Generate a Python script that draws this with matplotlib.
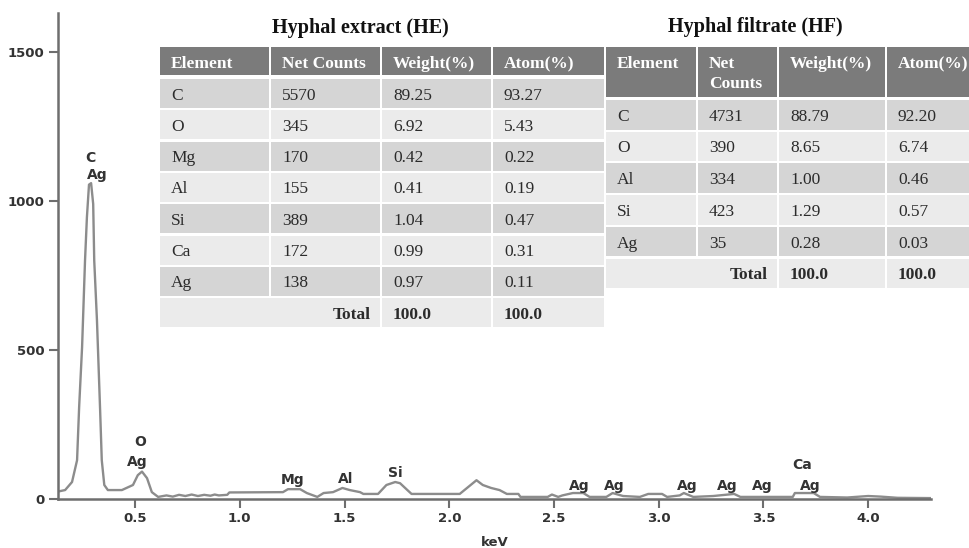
import matplotlib.pyplot as plt
from matplotlib.patches import Rectangle

# EDX spectrum (energy in keV, counts)
energy = [0.132, 0.166, 0.199, 0.223, 0.233, 0.247, 0.261, 0.270, 0.280, 0.290,
          0.300, 0.305, 0.318, 0.333, 0.341, 0.353, 0.370,
          0.437, 0.490, 0.513, 0.533, 0.557, 0.580, 0.610,
          0.650, 0.680, 0.710, 0.740, 0.770, 0.800, 0.830, 0.860, 0.880, 0.900,
          0.940, 0.950,
          1.206, 1.230, 1.288, 1.320, 1.370, 1.400, 1.445, 1.490, 1.525, 1.574,
          1.590, 1.660, 1.700, 1.742, 1.765, 1.800, 1.820,
          2.050, 2.090, 2.130, 2.160, 2.200, 2.240, 2.275, 2.330, 2.340, 2.470,
          2.490, 2.520, 2.540, 2.590, 2.640, 2.670, 2.750, 2.780, 2.830, 2.910,
          2.950,
          3.016, 3.040, 3.100, 3.120, 3.165, 3.260, 3.360, 3.390, 3.640, 3.650,
          3.740, 3.770, 3.900, 4.000, 4.060, 4.140, 4.300]
counts = [25, 30, 57, 130, 310, 510, 800, 945, 1055, 1060,
          990, 800, 600, 300, 130, 47, 30,
          30, 47, 80, 92, 70, 23, 7,
          12, 8, 14, 10, 15, 10, 14, 11, 15, 12,
          14, 22,
          23, 33, 33, 20, 7, 20, 23, 37, 30, 23,
          17, 17, 47, 57, 53, 30, 17,
          17, 40, 63, 47, 37, 30, 17, 17, 7, 7,
          15, 7, 12, 20, 20, 7, 7, 20, 10, 7,
          17,
          17, 7, 12, 20, 7, 10, 17, 7, 7, 20,
          20, 7, 5, 10, 8, 4, 3]

# peak identification labels
peak_names = ['C', 'Ag', 'O', 'Ag', 'Mg', 'Al', 'Si',
              'Ag', 'Ag', 'Ag', 'Ag', 'Ag', 'Ca', 'Ag']
peak_kev = [0.285, 0.318, 0.524, 0.510, 1.254, 1.503, 1.742,
            2.620, 2.787, 3.136, 3.327, 3.494, 3.685, 3.723]
peak_y = [1144, 1087, 191, 124, 64, 67, 87,
          44, 44, 44, 44, 44, 114, 44]

# composition tables
cols_he = ['Element', 'Net Counts', 'Weight(%)', 'Atom(%)']
rows_he = [['C', '5570', '89.25', '93.27'],
           ['O', '345', '6.92', '5.43'],
           ['Mg', '170', '0.42', '0.22'],
           ['Al', '155', '0.41', '0.19'],
           ['Si', '389', '1.04', '0.47'],
           ['Ca', '172', '0.99', '0.31'],
           ['Ag', '138', '0.97', '0.11']]
cols_hf = ['Element', 'Net\nCounts', 'Weight(%)', 'Atom(%)']
rows_hf = [['C', '4731', '88.79', '92.20'],
           ['O', '390', '8.65', '6.74'],
           ['Al', '334', '1.00', '0.46'],
           ['Si', '423', '1.29', '0.57'],
           ['Ag', '35', '0.28', '0.03']]
totals = ['100.0', '100.0']

W, H = 969, 548
fig = plt.figure(figsize=(W / 100, H / 100), dpi=100)
ax = fig.add_axes([58 / W, 49 / H, (931 - 58) / W, (499 - 13) / H])

ax.plot(energy, counts, color='#8c8c8c', lw=1.7)
ax.set_xlim(0.132, 4.30)
ax.set_ylim(0, 1631)
for s in ['top', 'right']:
    ax.spines[s].set_visible(False)
for s in ['left', 'bottom']:
    ax.spines[s].set_color('#6e6e6e')
    ax.spines[s].set_linewidth(1.8)
ax.set_xticks([0.5, 1.0, 1.5, 2.0, 2.5, 3.0, 3.5, 4.0])
ax.set_xticklabels(['0.5', '1.0', '1.5', '2.0', '2.5', '3.0', '3.5', '4.0'])
ax.set_yticks([0, 500, 1000, 1500])
ax.tick_params(direction='out', length=6.5, width=1.5, color='#6e6e6e',
               labelsize=9.5, labelcolor='#333333', pad=3)
for lbl in ax.get_xticklabels() + ax.get_yticklabels():
    lbl.set_fontweight('bold')
ax.set_xlabel('keV', fontsize=9.5, fontweight='bold', color='#333333', labelpad=8)

for name, x, y in zip(peak_names, peak_kev, peak_y):
    ax.text(x, y, name, ha='center', va='center', fontsize=10,
            fontweight='bold', color='#333333')

# overlay in pixel coordinates for the tables
ov = fig.add_axes([0, 0, 1, 1], zorder=5)
ov.set_xlim(0, W)
ov.set_ylim(H, 0)
ov.axis('off')

HEAD = '#7b7b7b'
DARK = '#d5d5d5'
LIGHT = '#ebebeb'
TXT = '#2b2b2b'
serif = 'Liberation Serif'
fs = 12.5


def cell(x0, x1, y0, y1, color):
    ov.add_patch(Rectangle((x0, y0), x1 - x0, y1 - y0, facecolor=color,
                           edgecolor='none'))


def draw_table(edges, head_top, head_bot, row_top, pitch, row_h, header, rows):
    gap = 2
    for j, h in enumerate(header):
        cell(edges[j], edges[j + 1] - gap, head_top, head_bot, HEAD)
        for k, line in enumerate(h.split('\n')):
            ov.text(edges[j] + 11, head_top + 21 + 20 * k, line, family=serif,
                    fontsize=fs, fontweight='bold', color='white', va='baseline')
    for i, r in enumerate(rows):
        y0 = row_top + i * pitch
        color = DARK if i % 2 == 0 else LIGHT
        for j, v in enumerate(r):
            cell(edges[j], edges[j + 1] - gap, y0, y0 + row_h, color)
            ov.text(edges[j] + 11, y0 + row_h / 2 + 6, v, family=serif,
                    fontsize=fs, color=TXT, va='baseline')
    y0 = row_top + len(rows) * pitch
    color = DARK if len(rows) % 2 == 0 else LIGHT
    cell(edges[0], edges[2] - gap, y0, y0 + row_h, color)
    ov.text(edges[2] - 11, y0 + row_h / 2 + 6, 'Total', family=serif,
            fontsize=fs, fontweight='bold', color=TXT, ha='right', va='baseline')
    for j, v in enumerate(totals):
        cell(edges[j + 2], edges[j + 3] - gap, y0, y0 + row_h, color)
        ov.text(edges[j + 2] + 11, y0 + row_h / 2 + 6, v, family=serif,
                fontsize=fs, fontweight='bold', color=TXT, va='baseline')


draw_table([160, 271, 382, 493, 606], 47, 75, 79, 31.3, 29, cols_he, rows_he)
draw_table([606, 698, 779, 887, 980], 47, 97, 100, 31.7, 29.5, cols_hf, rows_hf)

ov.text(360, 33, 'Hyphal extract (HE)', family=serif, fontsize=14.5,
        fontweight='bold', color='#111111', ha='center', va='baseline')
ov.text(755, 32, 'Hyphal filtrate (HF)', family=serif, fontsize=14.5,
        fontweight='bold', color='#111111', ha='center', va='baseline')

fig.savefig('out.png', dpi=100)
